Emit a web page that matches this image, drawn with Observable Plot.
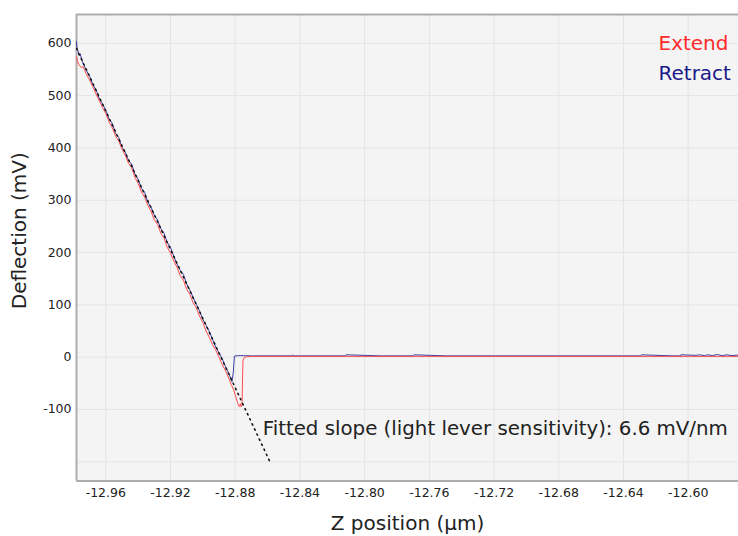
<!DOCTYPE html>
<html>
<head>
<meta charset="utf-8">
<script src="https://cdn.jsdelivr.net/npm/d3@7"></script>
<script src="https://cdn.jsdelivr.net/npm/@observablehq/plot@0.6"></script>
<style>
  body { margin: 0; background: #fff; }
  #chart { width: 738px; height: 536px; }
</style>
</head>
<body>
<div id="chart"></div>
<script>
// ---- data ----
const xDomain = [-12.9781, -12.5689];
const yDomain = [-236.7, 655];
const xTicks = [-12.96, -12.92, -12.88, -12.84, -12.80, -12.76, -12.72, -12.68, -12.64, -12.60];
const yTickLabels = [600, 500, 400, 300, 200, 100, 0, -100];
const yGridTicks = [600, 500, 400, 300, 200, 100, 0, -100, -200];
const seriesNames = ["Extend", "Retract"];
const xTitle = "Z position (µm)";
const yTitle = "Deflection (mV)";
const annotationText = "Fitted slope (light lever sensitivity): 6.6 mV/nm";
const annotationPos = [-12.863, -136];

const retractX = [-12.9783, -12.9778, -12.9772, -12.9765, -12.9758, -12.975, -12.974, -12.972, -12.970, -12.968, -12.966, -12.964, -12.962, -12.960, -12.958, -12.956, -12.954, -12.952, -12.950, -12.948, -12.946, -12.944, -12.942, -12.940, -12.938, -12.936, -12.934, -12.932, -12.930, -12.928, -12.926, -12.924, -12.922, -12.920, -12.918, -12.916, -12.914, -12.912, -12.910, -12.908, -12.906, -12.904, -12.902, -12.900, -12.898, -12.896, -12.894, -12.892, -12.890, -12.888, -12.886, -12.884, -12.882, -12.8812, -12.8805, -12.878, -12.870, -12.860, -12.845, -12.8445, -12.844, -12.83, -12.812, -12.8115, -12.79, -12.77, -12.7695, -12.75, -12.72, -12.70, -12.68, -12.6295, -12.629, -12.61, -12.6048, -12.6045, -12.595, -12.593, -12.59, -12.588, -12.585, -12.582, -12.579, -12.576, -12.573, -12.569];
const retractY = [604, 592, 586, 577, 580, 570, 561, 548, 537, 521, 511, 494, 484, 472, 455, 447, 428, 420, 401, 392, 376, 369, 350, 340, 323, 315, 296, 287, 271, 262, 246, 237, 219, 210, 193, 178, 166, 158, 140, 128, 114, 101, 88, 72, 61, 49, 34, 19, 8, -3, -18, -31, -47, -30, 2, 3, 2.5, 2.5, 2.5, 4.5, 2.5, 2.5, 2.5, 4.5, 2.5, 2.5, 4.5, 2.5, 2.5, 2.5, 2.5, 2.5, 4.5, 2.5, 2.5, 4.5, 3.5, 4.5, 3, 4.5, 3, 5, 3, 4.5, 3, 4];

const extendX = [-12.978, -12.9775, -12.9768, -12.976, -12.975, -12.974, -12.973, -12.972, -12.970, -12.968, -12.966, -12.964, -12.962, -12.960, -12.958, -12.956, -12.954, -12.952, -12.950, -12.948, -12.946, -12.944, -12.942, -12.940, -12.938, -12.936, -12.934, -12.932, -12.930, -12.928, -12.926, -12.924, -12.922, -12.920, -12.918, -12.916, -12.914, -12.912, -12.910, -12.908, -12.906, -12.904, -12.902, -12.900, -12.898, -12.896, -12.894, -12.892, -12.890, -12.888, -12.886, -12.884, -12.8825, -12.881, -12.8798, -12.8786, -12.8778, -12.8773, -12.8768, -12.8763, -12.8758, -12.8752, -12.8745, -12.873, -12.869, -12.569];
const extendY = [574, 566, 560, 556, 554, 555, 548, 541, 530, 517, 503, 490, 477, 466, 450, 439, 423, 413, 398, 386, 371, 362, 344, 332, 316, 306, 290, 279, 262, 254, 237, 228, 210, 199, 184, 172, 156, 147, 130, 120, 104, 94, 78, 66, 50, 38, 24, 13, 0, -14, -26, -40, -52, -62, -74, -86, -93, -95, -89, -95, -92, -6, -1, 1, 1.5, 1.5];

const fitX = [-12.9781, -12.858];
const fitY = [590, -203.6];

// ---- build rows for the library ----
const retract = retractX.map((x, i) => ({x, y: retractY[i]}));
const extend = extendX.map((x, i) => ({x, y: extendY[i]}));
const fit = fitX.map((x, i) => ({x, y: fitY[i]}));

const gridColor = "#e4e4e4";
const borderColor = "#adadad";
const textColor = "#222";
const bigFont = 20;

const chart = Plot.plot({
  width: 738,
  height: 536,
  marginLeft: 76,
  marginRight: 0,
  marginTop: 14,
  marginBottom: 55.5,
  style: {fontFamily: "DejaVu Sans, sans-serif", background: "#fff", overflow: "visible"},
  x: {domain: xDomain},
  y: {domain: yDomain},
  marks: [
    Plot.frame({fill: "#f4f4f4", stroke: null}),
    Plot.gridX(xTicks, {stroke: gridColor, strokeOpacity: 1, strokeWidth: 1}),
    Plot.gridY(yGridTicks, {stroke: gridColor, strokeOpacity: 1, strokeWidth: 1}),
    Plot.ruleX([xDomain[0]], {stroke: borderColor, strokeWidth: 2}),
    Plot.ruleY([yDomain[0], yDomain[1]], {stroke: borderColor, strokeWidth: 2}),
    Plot.line(retract, {x: "x", y: "y", stroke: "#3a3aa6", strokeWidth: 1, clip: true}),
    Plot.line(extend, {x: "x", y: "y", stroke: "#ff4a4a", strokeWidth: 1, clip: true}),
    Plot.line(fit, {x: "x", y: "y", stroke: "#111", strokeWidth: 1.6, strokeDasharray: "1.4,4.2", clip: true}),
    Plot.axisX(xTicks, {tickSize: 0, tickPadding: 7, fontSize: 12.5, fill: textColor, tickFormat: d => d.toFixed(2), label: null}),
    Plot.axisY(yTickLabels, {tickSize: 0, tickPadding: 5, fontSize: 12.5, fill: textColor, tickFormat: d => String(d), label: null}),
    Plot.text([yTitle], {frameAnchor: "left", rotate: -90, textAnchor: "middle", lineAnchor: "middle", dx: -57, dy: -17, fontSize: bigFont, fill: textColor}),
    Plot.text([xTitle], {frameAnchor: "bottom", textAnchor: "middle", lineAnchor: "middle", dy: 42.5, fontSize: bigFont, fill: textColor}),
    Plot.text([annotationText], {x: () => annotationPos[0], y: () => annotationPos[1], textAnchor: "start", lineAnchor: "middle", fontSize: 19.8, fill: textColor}),
    Plot.text([seriesNames[0]], {frameAnchor: "top-right", dx: -80, dy: 29.3, textAnchor: "start", lineAnchor: "middle", fontSize: bigFont, fill: "#ff2a2a"}),
    Plot.text([seriesNames[1]], {frameAnchor: "top-right", dx: -80, dy: 59.3, textAnchor: "start", lineAnchor: "middle", fontSize: bigFont, fill: "#1a1a8a"})
  ]
});
document.getElementById("chart").appendChild(chart);
</script>
</body>
</html>
